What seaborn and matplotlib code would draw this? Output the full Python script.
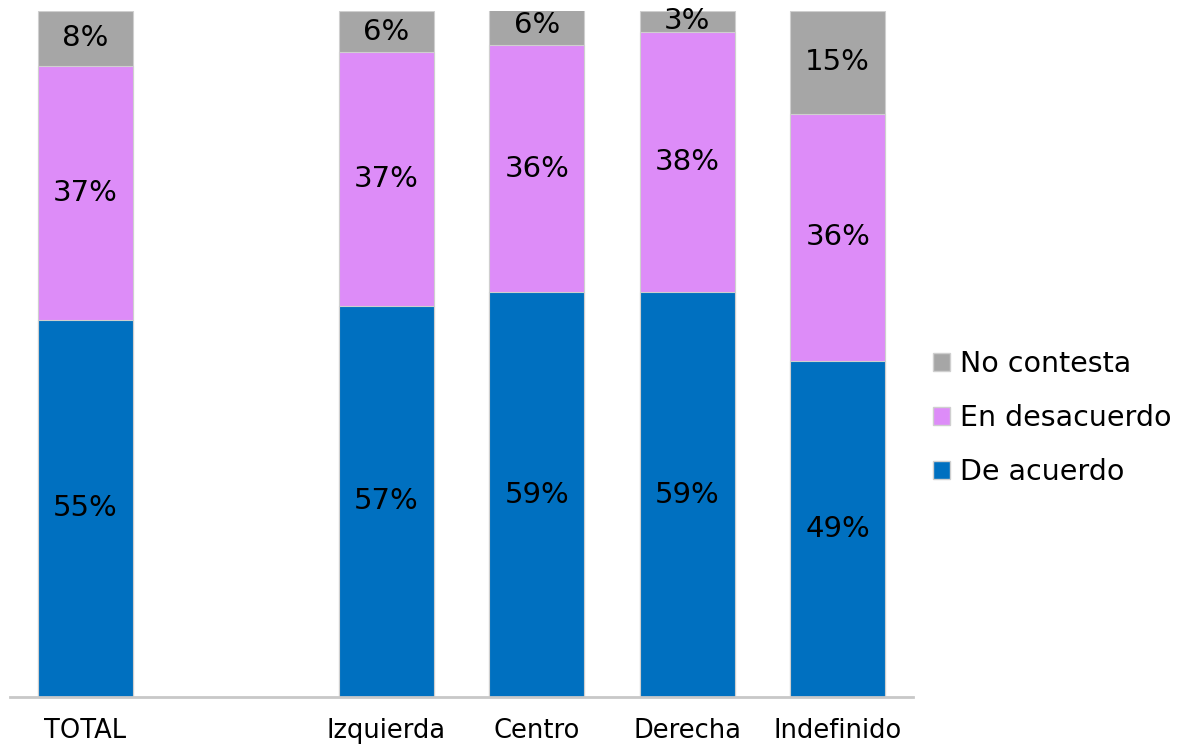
import matplotlib
matplotlib.use("Agg")
import matplotlib.pyplot as plt
import seaborn as sns
import pandas as pd
from matplotlib.patches import Patch

sns.set_theme(style="white")
plt.rcParams['font.family'] = ['DejaVu Sans']
plt.rcParams['text.color'] = 'black'

# data
groups = ["TOTAL", "Izquierda", "Centro", "Derecha", "Indefinido"]
order = ["TOTAL", " ", "Izquierda", "Centro", "Derecha", "Indefinido"]
de_acuerdo = [55, 57, 59, 59, 49]
en_desacuerdo = [37, 37, 36, 38, 36]
no_contesta = [8, 6, 6, 3, 15]

c_acuerdo = "#0070C0"
c_desacuerdo = "#DD8CF8"
c_nc = "#A6A6A6"

df = pd.DataFrame({"grupo": groups, "acuerdo": de_acuerdo,
                   "desacuerdo": en_desacuerdo, "nc": no_contesta})
df["cum2"] = df["acuerdo"] + df["desacuerdo"]
df["cum3"] = df["cum2"] + df["nc"]

fig = plt.figure(figsize=(12.02, 7.46), dpi=100)
ax = fig.add_axes([10/1202, 49/746, 903/1202, 686/746])

w = 0.63
edge = dict(edgecolor="#cfcfcf", linewidth=0.8, saturation=1)
# stack by overlaying cumulative totals
sns.barplot(data=df, x="grupo", y="cum3", order=order, color=c_nc, width=w, ax=ax, **edge)
sns.barplot(data=df, x="grupo", y="cum2", order=order, color=c_desacuerdo, width=w, ax=ax, **edge)
sns.barplot(data=df, x="grupo", y="acuerdo", order=order, color=c_acuerdo, width=w, ax=ax, **edge)

ax.set_ylim(0, 100)
ax.set_xlim(-0.5, 5.5)
ax.set_xlabel("")
ax.set_ylabel("")
ax.set_yticks([])
for s in ["top", "right", "left"]:
    ax.spines[s].set_visible(False)
ax.spines["bottom"].set_color("#c8c8c8")
ax.spines["bottom"].set_linewidth(2)
ax.tick_params(axis="x", length=0, pad=15, labelsize=18.5, labelcolor="black")

for i, g in enumerate(order):
    if g not in groups:
        continue
    r = df[df["grupo"] == g].iloc[0]
    segs = [(0, r["acuerdo"]), (r["acuerdo"], r["desacuerdo"]), (r["cum2"], r["nc"])]
    for base, val in segs:
        ax.text(i, base + val / 2, f"{val}%", ha="center", va="center",
                fontsize=21, color="black", clip_on=False)

handles = [Patch(facecolor=c_nc, edgecolor="#cfcfcf"),
           Patch(facecolor=c_desacuerdo, edgecolor="#cfcfcf"),
           Patch(facecolor=c_acuerdo, edgecolor="#cfcfcf")]
labels = ["No contesta", "En desacuerdo", "De acuerdo"]
leg = fig.legend(handles, labels, loc="center left", bbox_to_anchor=(933/1202, 1 - 418/746),
                 frameon=False, fontsize=20.5, handlelength=0.6, handleheight=0.6,
                 handletextpad=0.35, labelspacing=0.9, borderaxespad=0, borderpad=0)
for t in leg.get_texts():
    t.set_color("black")

fig.savefig("out.png", dpi=100)
